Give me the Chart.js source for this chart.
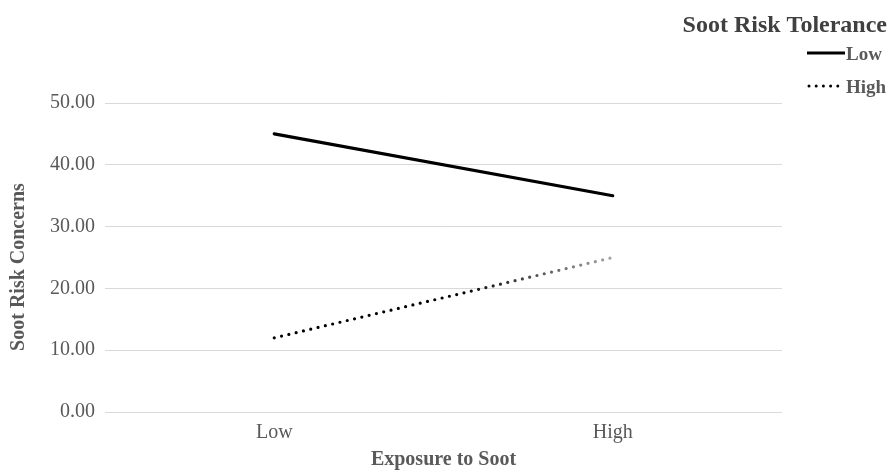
<!DOCTYPE html>
<html>
<head>
<meta charset="utf-8">
<script src="https://cdn.jsdelivr.net/npm/chart.js@4/dist/chart.umd.min.js"></script>
<style>
  html, body { margin: 0; padding: 0; background: #ffffff; }
  #wrap { width: 889px; height: 471px; position: relative; }
</style>
</head>
<body>
<div id="wrap"><canvas id="c" width="889" height="471"></canvas></div>
<script>
const categories = ['Low', 'High'];
const seriesNames = ['Low', 'High'];
const lowToleranceValues = [45, 35];
const highToleranceValues = [12, 25];
const yTickMin = 0;
const yTickMax = 50;
const yTickStep = 10;
const legendTitle = 'Soot Risk Tolerance';
const xAxisTitle = 'Exposure to Soot';
const yAxisTitle = 'Soot Risk Concerns';

const FONT = "'Liberation Serif', 'Times New Roman', serif";

function fadingBlack(context) {
  const chart = context.chart;
  if (!chart.chartArea || !chart.scales.x) return '#000000';
  const xs = chart.scales.x;
  const x0 = xs.getPixelForValue(0);
  const x1 = xs.getPixelForValue(categories.length - 1);
  const g = chart.ctx.createLinearGradient(x0, 0, x1, 0);
  g.addColorStop(0, '#000000');
  g.addColorStop(0.55, '#000000');
  g.addColorStop(1, '#a6a6a6');
  return g;
}

const legendPlugin = {
  id: 'customLegend',
  afterDraw(chart) {
    const c = chart.ctx;
    c.save();
    // y axis title
    c.save();
    c.translate(19, 267);
    c.rotate(-Math.PI / 2);
    c.font = 'bold 20px ' + FONT;
    c.fillStyle = '#595959';
    c.textAlign = 'center';
    c.textBaseline = 'middle';
    c.fillText(yAxisTitle, 0, 0);
    c.restore();

    c.textBaseline = 'alphabetic';
    c.font = 'bold 24px ' + FONT;
    c.fillStyle = '#404040';
    c.textAlign = 'right';
    c.fillText(legendTitle, 887, 32);
    const items = [
      { y: 60, dash: [], cap: 'butt', x0: 807, x1: 845 },
      { y: 93, dash: [0, 7.2], cap: 'round', x0: 809, x1: 842 }
    ];
    chart.data.datasets.forEach((ds, i) => {
      const it = items[i];
      c.beginPath();
      c.setLineDash(it.dash);
      c.lineCap = it.cap;
      c.lineWidth = 3;
      c.strokeStyle = '#000000';
      c.moveTo(it.x0, it.y - 7);
      c.lineTo(it.x1, it.y - 7);
      c.stroke();
      c.setLineDash([]);
      c.font = 'bold 19px ' + FONT;
      c.fillStyle = '#595959';
      c.textAlign = 'left';
      c.fillText(ds.label, 846, it.y);
    });
    c.restore();
  }
};

new Chart(document.getElementById('c'), {
  type: 'line',
  data: {
    labels: categories,
    datasets: [
      {
        label: seriesNames[0],
        data: lowToleranceValues,
        borderColor: '#000000',
        borderWidth: 3.2,
        borderCapStyle: 'round',
        pointRadius: 0,
        fill: false,
        tension: 0
      },
      {
        label: seriesNames[1],
        data: highToleranceValues,
        borderColor: fadingBlack,
        borderWidth: 3.2,
        borderDash: [0, 7.5],
        borderCapStyle: 'round',
        pointRadius: 0,
        fill: false,
        tension: 0
      }
    ]
  },
  options: {
    responsive: false,
    animation: false,
    layout: { padding: { top: 103, right: 107, bottom: 0, left: 0 } },
    plugins: {
      legend: { display: false },
      tooltip: { enabled: false }
    },
    scales: {
      x: {
        offset: true,
        grid: { display: false, drawTicks: false },
        border: { display: false },
        ticks: { color: '#595959', font: { family: FONT, size: 20 }, padding: 9 },
        title: {
          display: true,
          text: xAxisTitle,
          color: '#595959',
          font: { family: FONT, size: 20, weight: 'bold' },
          padding: { top: 0, bottom: -1 }
        },
        afterFit(scale) { scale.height = 59; }
      },
      y: {
        min: yTickMin,
        max: yTickMax,
        grid: { color: '#d9d9d9', lineWidth: 1, drawTicks: false },
        border: { display: false },
        ticks: {
          stepSize: yTickStep,
          color: '#595959',
          font: { family: FONT, size: 20 },
          padding: 10,
          callback: v => Number(v).toFixed(2)
        },
        title: { display: false },
        afterFit(scale) { scale.width = 105; }
      }
    }
  },
  plugins: [legendPlugin]
});
</script>
</body>
</html>
